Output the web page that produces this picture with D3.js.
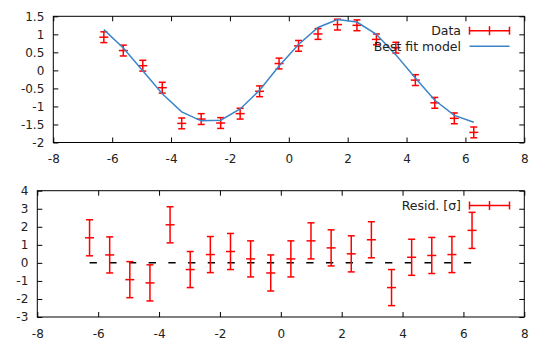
<!DOCTYPE html>
<html><head><meta charset="utf-8">
<script src="https://cdn.jsdelivr.net/npm/d3@7"></script>
<style>body{margin:0;background:#fff}svg{display:block}text{font-family:"DejaVu Sans",sans-serif;font-size:12px;fill:#222}</style>
</head><body><svg id="c" width="550" height="350"></svg>
<script>
const xVals = [-6.283,-5.622,-4.960,-4.299,-3.638,-2.976,-2.315,-1.653,-0.992,-0.331,0.331,0.992,1.653,2.315,2.976,3.638,4.299,4.960,5.622,6.283];
const dataVals = [0.92,0.55,0.13,-0.48,-1.47,-1.35,-1.46,-1.20,-0.58,0.19,0.68,1.01,1.27,1.25,0.86,0.63,-0.27,-0.90,-1.33,-1.72];
const dataErr = [0.15,0.15,0.15,0.15,0.15,0.15,0.15,0.15,0.15,0.15,0.15,0.15,0.15,0.15,0.15,0.15,0.15,0.15,0.15,0.15];
const modelVals = [1.13,0.62,-0.01,-0.65,-1.15,-1.40,-1.38,-1.07,-0.55,0.12,0.72,1.19,1.41,1.34,1.00,0.43,-0.21,-0.83,-1.25,-1.44];
const residVals = [1.39,0.44,-0.93,-1.11,2.11,-0.37,0.46,0.63,0.22,-0.56,0.22,1.22,0.83,0.50,1.28,-1.37,0.31,0.41,0.46,1.80];
const residErr = [1,1,1,1,1,1,1,1,1,1,1,1,1,1,1,1,1,1,1,1];
const xTicks = [-8,-6,-4,-2,0,2,4,6,8];
const yTicksTop = [-2,-1.5,-1,-0.5,0,0.5,1,1.5];
const yTicksBot = [-3,-2,-1,0,1,2,3,4];

const svg = d3.select("#c");
const RED = "#f00", BLUE = "#3b84c8";

function panel(box, yDom, yTicks) {
  const x = d3.scaleLinear().domain([-8, 8]).range([box.l, box.r]);
  const y = d3.scaleLinear().domain(yDom).range([box.b, box.t]);
  const g = svg.append("g");
  const tl = 5;
  g.append("g").attr("transform", `translate(0,${box.b})`)
    .call(d3.axisBottom(x).tickValues(xTicks).tickSize(-tl).tickPadding(12).tickFormat(d => String(d)));
  g.append("g").attr("transform", `translate(0,${box.t})`)
    .call(d3.axisTop(x).tickValues(xTicks).tickSize(-tl).tickFormat(""));
  g.append("g").attr("transform", `translate(${box.l},0)`)
    .call(d3.axisLeft(y).tickValues(yTicks).tickSize(-tl).tickPadding(9).tickFormat(d => String(d)));
  g.append("g").attr("transform", `translate(${box.r},0)`)
    .call(d3.axisRight(y).tickValues(yTicks).tickSize(-tl).tickFormat(""));
  g.selectAll(".domain").remove();
  g.selectAll(".tick line").attr("stroke", "#000");
  g.selectAll(".tick text").attr("fill", "#222").style("font-size", "12px").style("font-family", "DejaVu Sans");
  g.append("rect").attr("x", box.l).attr("y", box.t).attr("width", box.r - box.l).attr("height", box.b - box.t)
    .attr("fill", "none").attr("stroke", "#000").attr("stroke-width", 1);
  return {x, y, g};
}

function errBars(g, x, y, xs, vs, es) {
  const gg = g.append("g").attr("stroke", RED).attr("stroke-width", 1.5).attr("fill", "none");
  xs.forEach((xv, i) => {
    const cx = x(xv), y0 = y(vs[i] - es[i]), y1 = y(vs[i] + es[i]), yc = y(vs[i]);
    gg.append("line").attr("x1", cx).attr("x2", cx).attr("y1", y0).attr("y2", y1);
    gg.append("line").attr("x1", cx - 3.5).attr("x2", cx + 3.5).attr("y1", y0).attr("y2", y0);
    gg.append("line").attr("x1", cx - 3.5).attr("x2", cx + 3.5).attr("y1", y1).attr("y2", y1);
    gg.append("line").attr("x1", cx - 4.5).attr("x2", cx + 4.5).attr("y1", yc).attr("y2", yc);
  });
}

function legendErr(g, x0, x1, yy) {
  const gg = g.append("g").attr("stroke", RED).attr("stroke-width", 1.5);
  gg.append("line").attr("x1", x0).attr("x2", x1).attr("y1", yy).attr("y2", yy);
  gg.append("line").attr("x1", x0).attr("x2", x0).attr("y1", yy - 4).attr("y2", yy + 4);
  gg.append("line").attr("x1", x1).attr("x2", x1).attr("y1", yy - 4).attr("y2", yy + 4);
  gg.append("line").attr("x1", (x0 + x1) / 2).attr("x2", (x0 + x1) / 2).attr("y1", yy - 4.5).attr("y2", yy + 4.5);
}

// Top panel
const topP = panel({l: 53.3, r: 524.3, t: 16.3, b: 142.5}, [-2, 1.5], yTicksTop);
const line = d3.line().x((d, i) => topP.x(xVals[i])).y(d => topP.y(d));
errBars(topP.g, topP.x, topP.y, xVals, dataVals, dataErr);
topP.g.append("path").datum(modelVals).attr("d", line).attr("fill", "none").attr("stroke", BLUE).attr("stroke-width", 1.5);
topP.g.append("text").attr("x", 461).attr("y", 31).attr("dy", "0.35em").attr("text-anchor", "end").style("font-size", "12.5px").text("Data");
legendErr(topP.g, 469.5, 509.5, 30.7);
topP.g.append("text").attr("x", 461).attr("y", 47).attr("dy", "0.35em").attr("text-anchor", "end").style("font-size", "12.5px").text("Best fit model");
topP.g.append("line").attr("x1", 469.5).attr("x2", 509.5).attr("y1", 46.3).attr("y2", 46.3).attr("stroke", BLUE).attr("stroke-width", 1.5);

// Bottom panel
const botP = panel({l: 37.3, r: 524.3, t: 190.7, b: 317}, [-3, 4], yTicksBot);
botP.g.append("line").attr("x1", botP.x(xVals[0])).attr("x2", botP.x(xVals[xVals.length - 1]))
  .attr("y1", botP.y(0)).attr("y2", botP.y(0)).attr("stroke", "#000").attr("stroke-width", 1.5)
  .attr("stroke-dasharray", "7.3,12.4");
errBars(botP.g, botP.x, botP.y, xVals, residVals, residErr);
botP.g.append("text").attr("x", 461).attr("y", 205.5).attr("dy", "0.35em").attr("text-anchor", "end").style("font-size", "12.5px").text("Resid. [σ]");
legendErr(botP.g, 469.5, 509.5, 205.5);
</script></body></html>
